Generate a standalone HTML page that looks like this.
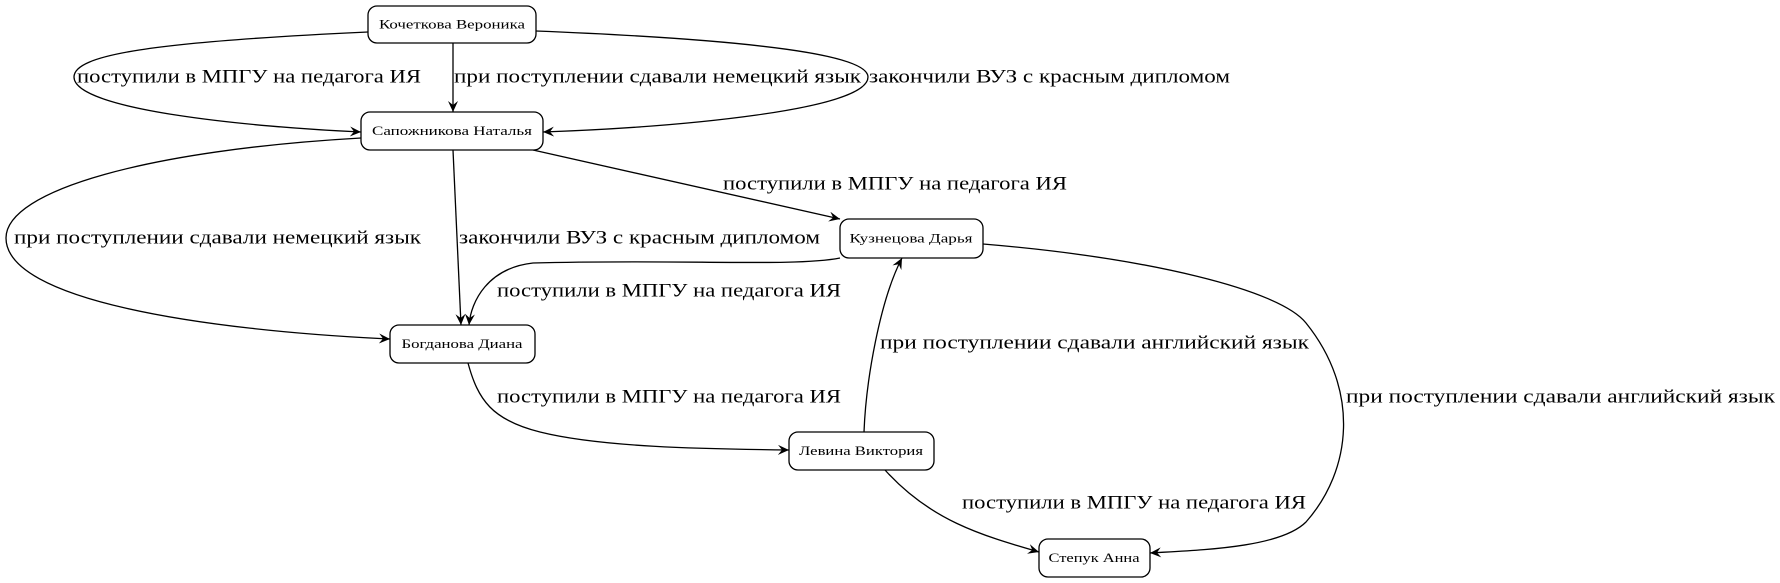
<!DOCTYPE html>
<html><head><meta charset="utf-8"><style>
html,body{margin:0;padding:0;background:#fff;}
svg{display:block;}
text{font-family:"Liberation Serif","DejaVu Serif",serif;fill:#000;}
.n{font-size:12.5px;text-anchor:middle;dominant-baseline:central;}
.l{font-size:19px;dominant-baseline:central;}
rect{fill:#fff;stroke:#000;stroke-width:1.3;}
path.e{fill:none;stroke:#000;stroke-width:1.3;}
</style></head><body>
<svg width="1780" height="583" viewBox="0 0 1780 583" xmlns="http://www.w3.org/2000/svg">
<defs>
<marker id="a" markerWidth="12" markerHeight="10" refX="11" refY="5" orient="auto" markerUnits="userSpaceOnUse">
<path d="M0,0 L11,5 L0,10 L4,5 z" fill="#000"/>
</marker>
</defs>
<!-- edges -->
<path class="e" marker-end="url(#a)" d="M368,32 C150,42 74,55 74,77 C74,110 250,127 361,132"/>
<path class="e" marker-end="url(#a)" d="M453,43 L453,112"/>
<path class="e" marker-end="url(#a)" d="M536,31 C760,40 868,55 868,77 C868,110 680,127 543,132"/>
<path class="e" marker-end="url(#a)" d="M361,138 C150,150 6,190 6,238 C6,300 200,330 390,339"/>
<path class="e" marker-end="url(#a)" d="M453,150 L461,325"/>
<path class="e" marker-end="url(#a)" d="M533,150 L840,219"/>
<path class="e" marker-end="url(#a)" d="M840,258 C795,267 681,259 533,263 C488,268 471,301 469,325"/>
<path class="e" marker-end="url(#a)" d="M468,363 C478,400 492,420 540,432 C600,447 700,449 789,450"/>
<path class="e" marker-end="url(#a)" d="M864,432 C866,380 880,300 902,258"/>
<path class="e" marker-end="url(#a)" d="M983,244 C1150,258 1280,290 1306,323 C1360,390 1352,470 1306,522 C1280,548 1200,550 1150,553"/>
<path class="e" marker-end="url(#a)" d="M885,470 C930,520 980,535 1039,552"/>
<!-- nodes -->
<rect x="368" y="6" width="168" height="37" rx="9"/>
<text class="n" x="452" y="24.5" textLength="146" lengthAdjust="spacingAndGlyphs">Кочеткова Вероника</text>
<rect x="361" y="112" width="182" height="38" rx="9"/>
<text class="n" x="452" y="131" textLength="160" lengthAdjust="spacingAndGlyphs">Сапожникова Наталья</text>
<rect x="840" y="219" width="143" height="39" rx="9"/>
<text class="n" x="911" y="238.5" textLength="123" lengthAdjust="spacingAndGlyphs">Кузнецова Дарья</text>
<rect x="390" y="325" width="145" height="38" rx="9"/>
<text class="n" x="462" y="344" textLength="121" lengthAdjust="spacingAndGlyphs">Богданова Диана</text>
<rect x="789" y="432" width="145" height="38" rx="9"/>
<text class="n" x="861" y="451" textLength="124" lengthAdjust="spacingAndGlyphs">Левина Виктория</text>
<rect x="1039" y="539" width="111" height="38" rx="9"/>
<text class="n" x="1094" y="558" textLength="91" lengthAdjust="spacingAndGlyphs">Степук Анна</text>
<!-- labels -->
<text class="l" x="77" y="77" textLength="344" lengthAdjust="spacingAndGlyphs">поступили в МПГУ на педагога ИЯ</text>
<text class="l" x="454" y="77" textLength="407" lengthAdjust="spacingAndGlyphs">при поступлении сдавали немецкий язык</text>
<text class="l" x="869" y="77" textLength="361" lengthAdjust="spacingAndGlyphs">закончили ВУЗ с красным дипломом</text>
<text class="l" x="14" y="238" textLength="407" lengthAdjust="spacingAndGlyphs">при поступлении сдавали немецкий язык</text>
<text class="l" x="459" y="238" textLength="361" lengthAdjust="spacingAndGlyphs">закончили ВУЗ с красным дипломом</text>
<text class="l" x="723" y="184" textLength="344" lengthAdjust="spacingAndGlyphs">поступили в МПГУ на педагога ИЯ</text>
<text class="l" x="497" y="291" textLength="344" lengthAdjust="spacingAndGlyphs">поступили в МПГУ на педагога ИЯ</text>
<text class="l" x="497" y="397" textLength="344" lengthAdjust="spacingAndGlyphs">поступили в МПГУ на педагога ИЯ</text>
<text class="l" x="880" y="343" textLength="429" lengthAdjust="spacingAndGlyphs">при поступлении сдавали английский язык</text>
<text class="l" x="1346" y="397" textLength="429" lengthAdjust="spacingAndGlyphs">при поступлении сдавали английский язык</text>
<text class="l" x="962" y="503" textLength="344" lengthAdjust="spacingAndGlyphs">поступили в МПГУ на педагога ИЯ</text>
</svg>
</body></html>
